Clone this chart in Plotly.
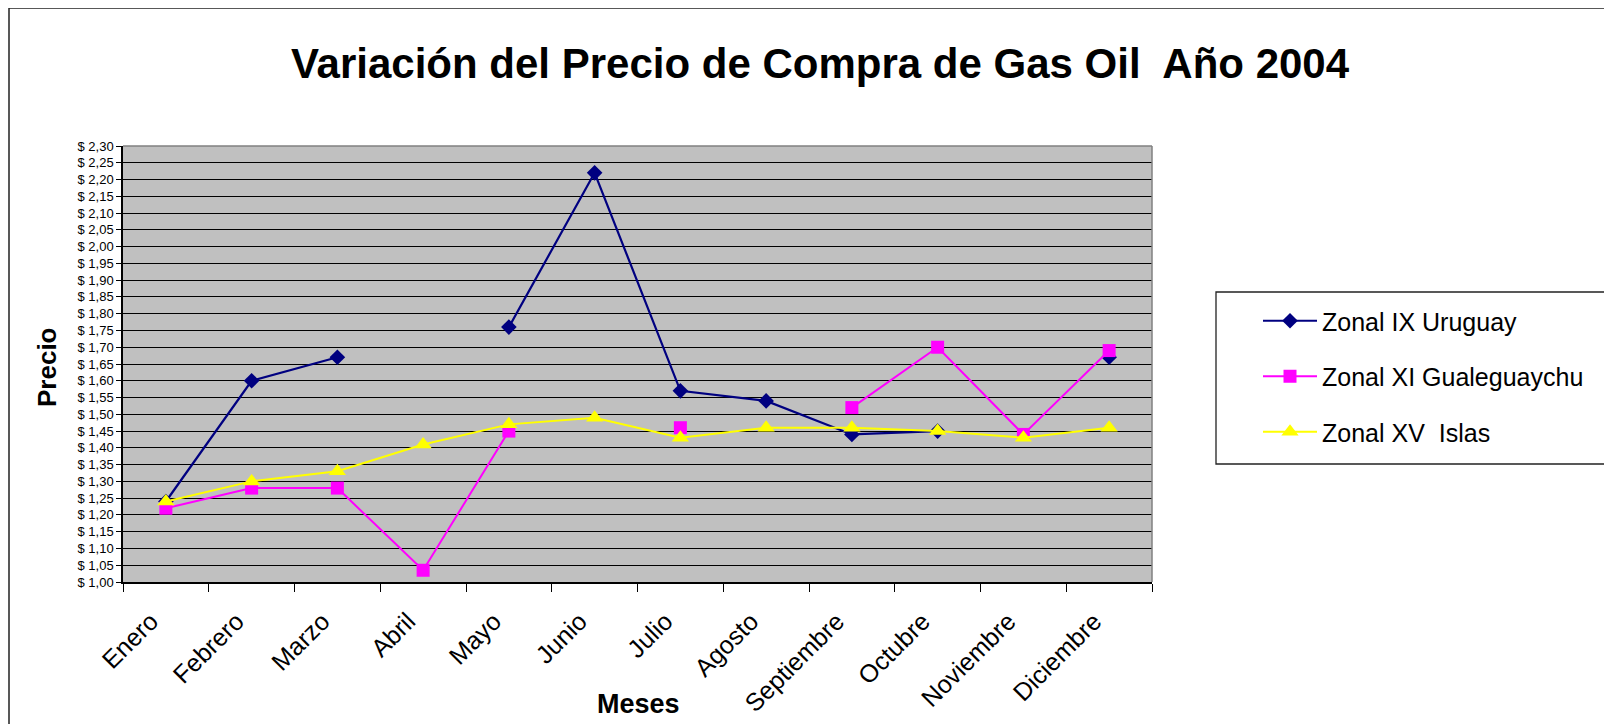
import plotly.graph_objects as go

months = ["Enero", "Febrero", "Marzo", "Abril", "Mayo", "Junio", "Julio",
          "Agosto", "Septiembre", "Octubre", "Noviembre", "Diciembre"]
uruguay = [1.24, 1.60, 1.67, None, 1.76, 2.22, 1.57, 1.54, 1.44, 1.45, None, 1.67]
gualeguaychu = [1.22, 1.28, 1.28, 1.035, 1.45, None, 1.46, None, 1.52, 1.70, 1.44, 1.69]
islas = [1.24, 1.30, 1.33, 1.41, 1.47, 1.49, 1.43, 1.46, 1.46, 1.45, 1.43, 1.46]

y_tickvals = [1.00, 1.05, 1.10, 1.15, 1.20, 1.25, 1.30, 1.35, 1.40, 1.45, 1.50,
              1.55, 1.60, 1.65, 1.70, 1.75, 1.80, 1.85, 1.90, 1.95, 2.00, 2.05,
              2.10, 2.15, 2.20, 2.25, 2.30]
y_ticktext = ["$ 1,00", "$ 1,05", "$ 1,10", "$ 1,15", "$ 1,20", "$ 1,25", "$ 1,30",
              "$ 1,35", "$ 1,40", "$ 1,45", "$ 1,50", "$ 1,55", "$ 1,60", "$ 1,65",
              "$ 1,70", "$ 1,75", "$ 1,80", "$ 1,85", "$ 1,90", "$ 1,95", "$ 2,00",
              "$ 2,05", "$ 2,10", "$ 2,15", "$ 2,20", "$ 2,25", "$ 2,30"]

FONT = "Arial, 'Liberation Sans', sans-serif"
OFF = 8  # default body margin of the html page
W, H = 1612 - OFF, 724 - OFF
# target page-pixel geometry of the plot area
L, R, T, B = 123 - OFF, 1152 - OFF, 146 - OFF, 582 - OFF


def px(x):
    return (x - OFF - L) / (R - L)


def py(y):
    return (B - (y - OFF)) / (B - T)


fig = go.Figure()
fig.add_trace(go.Scatter(
    x=months, y=uruguay, name="Zonal IX Uruguay", mode="lines+markers",
    line=dict(color="#000080", width=2.2), connectgaps=False,
    marker=dict(symbol="diamond", size=12, color="#000080"), legendgroup="a"))
fig.add_trace(go.Scatter(
    x=months, y=gualeguaychu, name="Zonal XI Gualeguaychu", mode="lines+markers",
    line=dict(color="#FF00FF", width=2), connectgaps=False,
    marker=dict(symbol="square", size=13, color="#FF00FF"), legendgroup="b"))
fig.add_trace(go.Scatter(
    x=months, y=islas, name="Zonal XV  Islas", mode="lines+markers",
    line=dict(color="#FFFF00", width=2), connectgaps=False,
    marker=dict(symbol="triangle-up", size=15, color="#FFFF00"), legendgroup="c"))

shapes = [
    dict(type="line", xref="paper", yref="paper", x0=0, x1=1, y0=1, y1=1,
         line=dict(color="#808080", width=1.5), layer="above"),
    dict(type="line", xref="paper", yref="paper", x0=1, x1=1, y0=0, y1=1,
         line=dict(color="#808080", width=1.5), layer="above"),
    dict(type="rect", xref="paper", yref="paper", x0=px(1216), x1=px(1640),
         y0=py(464), y1=py(292), line=dict(color="#222222", width=1.3)),
    dict(type="rect", xref="paper", yref="paper", x0=px(9), x1=px(1650),
         y0=py(750), y1=py(8), line=dict(color="#222222", width=1.5)),
]

annotations = [
    dict(text="<b>Precio</b>", xref="paper", yref="paper", x=px(47), y=py(367),
         xanchor="center", yanchor="middle", textangle=-90, showarrow=False,
         font=dict(family=FONT, size=26, color="black")),
    dict(text="<b>Meses</b>", xref="paper", yref="paper", x=px(638), y=py(704),
         xanchor="center", yanchor="middle", showarrow=False,
         font=dict(family=FONT, size=27, color="black")),
]

fig.update_layout(
    width=W, height=H,
    margin=dict(l=L, r=W - R, t=T, b=H - B, pad=0, autoexpand=False),
    paper_bgcolor="white", plot_bgcolor="#C0C0C0",
    font=dict(family=FONT, color="black"),
    title=dict(text="<b>Variación del Precio de Compra de Gas Oil  Año 2004</b>",
               xref="container", yref="container", x=(820 - OFF) / W,
               y=1 - (63 - OFF) / H, xanchor="center", yanchor="middle",
               font=dict(family=FONT, size=42, color="black")),
    showlegend=True,
    legend=dict(x=px(1258), y=py(298), xanchor="left", yanchor="top",
                bgcolor="rgba(0,0,0,0)", borderwidth=0,
                font=dict(family=FONT, size=25, color="black"),
                tracegroupgap=20, itemsizing="trace", itemwidth=54),
    shapes=shapes, annotations=annotations,
)

fig.update_xaxes(
    type="category", range=[-0.5, 11.5], tickson="boundaries",
    ticks="outside", ticklen=8, tickwidth=1, tickcolor="black",
    showgrid=False, showline=True, linecolor="black", linewidth=1.5,
    tickangle=-45, tickfont=dict(family=FONT, size=25, color="black"),
    ticklabelshift=-15, ticklabelstandoff=13, automargin=False,
    zeroline=False, fixedrange=True)
fig.update_yaxes(
    range=[1.0, 2.3], tickvals=y_tickvals, ticktext=y_ticktext,
    ticks="outside", ticklen=5, tickwidth=1, tickcolor="black",
    showgrid=True, gridcolor="black", gridwidth=1, automargin=False,
    showline=True, linecolor="black", linewidth=1.5,
    tickfont=dict(family=FONT, size=13, color="black"),
    zeroline=False, fixedrange=True)

fig.write_html("out.html")
